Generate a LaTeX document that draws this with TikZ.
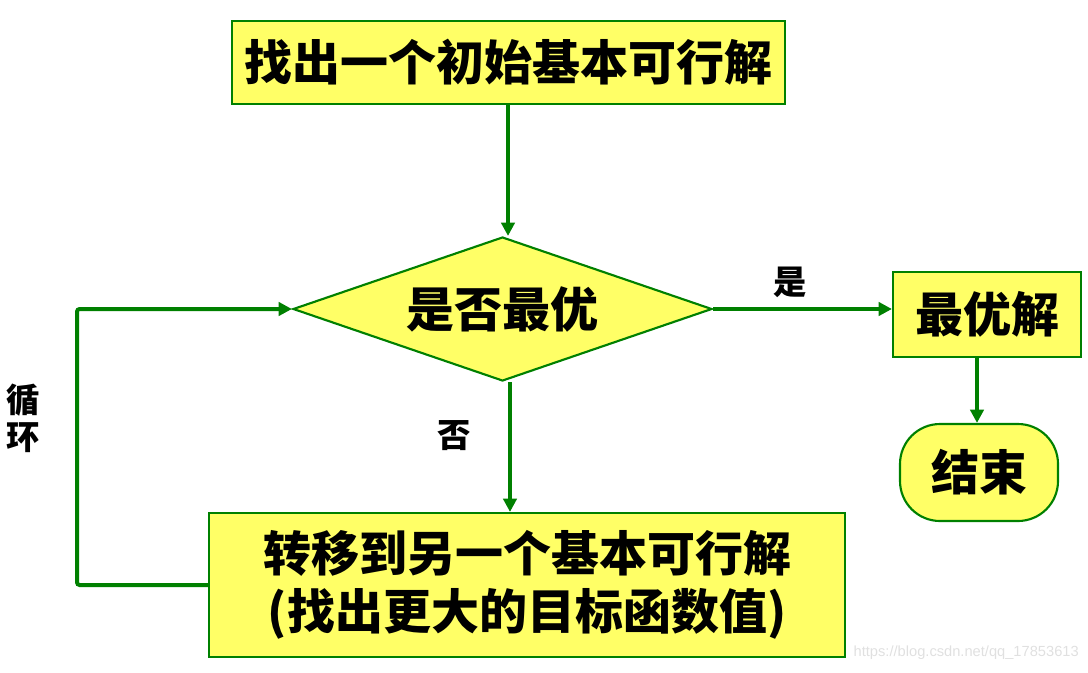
\documentclass[tikz,border=0pt]{standalone}
\usepackage{fontspec}
\newfontfamily\cjk{Noto Sans CJK SC}
\newfontfamily\wmfont{Liberation Sans}
\usetikzlibrary{shapes.geometric,arrows.meta}
\definecolor{fgreen}{HTML}{008000}
\definecolor{fyellow}{HTML}{FFFF66}
\begin{document}
\begin{tikzpicture}[x=0.75pt,y=-0.75pt,
  box/.style={draw=fgreen,line width=1.6pt,fill=fyellow,inner sep=0pt,align=center,
    font=\cjk\bfseries\fontsize{36}{44}\selectfont},
  conn/.style={draw=fgreen,line width=3pt,-{Triangle[length=10pt,width=10pt]}},
  lbl/.style={font=\cjk\bfseries\fontsize{25}{28}\selectfont,inner sep=0pt,align=center}]
\useasboundingbox (0,0) rectangle (1088,672);
\node[box,minimum width=414.75pt,minimum height=62.25pt] (top) at (508.5,62.5) {找出一个初始基本可行解};
\node[box,diamond,aspect=2.9,minimum width=314.25pt,minimum height=108pt] (d) at (502.5,309) {是否最优};
\node[box,minimum width=141pt,minimum height=63.75pt] (ans) at (987,314.5) {最优解};
\node[box,rounded corners=30pt,minimum width=118.5pt,minimum height=72.75pt] (end) at (979,472.5) {结束};
\node[box,minimum width=477pt,minimum height=108pt] (bot) at (527,585) {转移到另一个基本可行解\\(找出更大的目标函数值)};
\coordinate (lp) at (77,585);
\draw[conn] (top.south -| 508,0) -- (508,0 |- d.north);
\draw[conn] (d.south -| 510,0) -- (510,0 |- bot.north);
\draw[conn] (d.east) -- (d.east -| ans.west);
\draw[conn] (977,0 |- ans.south) -- (977,0 |- end.north);
\draw[conn,rounded corners=2pt] (bot.west) -- (lp) |- (d.west);
\node[lbl] (yes) at (790,282) {是};
\node[lbl] (no) at (454,436) {否};
\node[lbl,font=\cjk\bfseries\fontsize{25}{28}\selectfont] (loop) at (23,418) {循\\环};
\node[font=\wmfont\fontsize{11}{13}\selectfont,text=black!12,inner sep=0pt,anchor=east] (wm) at (1079,653) {https://blog.csdn.net/qq\_17853613};
\end{tikzpicture}
\end{document}
